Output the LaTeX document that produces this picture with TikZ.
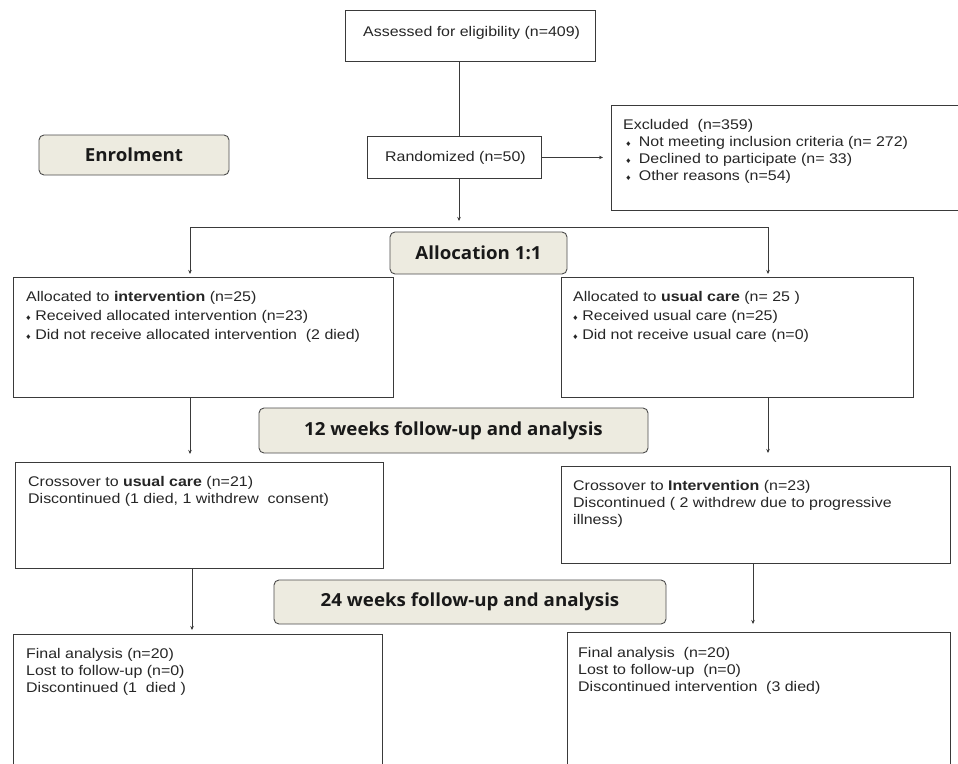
\documentclass[tikz,border=0pt]{standalone}
\usepackage{fontspec}
\setmainfont{Liberation Sans}
\newfontfamily\bodyfont{Liberation Sans}[FakeStretch=1.14]
\newfontfamily\headfont{Open Sans}[FakeStretch=1.04]
\usetikzlibrary{arrows.meta,calc}
\definecolor{beige}{HTML}{EDEBE0}
\definecolor{lineg}{HTML}{3A3A3A}
\newcommand{\dia}{{\fontsize{8}{8}\selectfont ♦}\hspace{4.5pt}}
\newcommand{\diab}{\hspace*{3pt}{\fontsize{8}{8}\selectfont ♦}\hspace{8pt}}
\tikzset{
  box/.style={draw=lineg, line width=0.9pt, inner sep=0pt, anchor=north west},
  txt/.style={anchor=north west, inner sep=0pt, align=left, font=\bodyfont\fontsize{14}{17.2}\selectfont, text=black!85},
  wtxt/.style={txt, font=\bodyfont\fontsize{14}{19}\selectfont},
  stage/.style={draw=black!70, fill=beige, rounded corners=5pt, line width=0.9pt, inner sep=0pt, font=\headfont\bfseries\fontsize{18}{20}\selectfont, text=black!90},
  conn/.style={draw=lineg, line width=0.8pt},
  arr/.style={conn, -{Stealth[length=4pt,width=3.5pt]}}
}
\begin{document}
\begin{tikzpicture}[x=1pt,y=-1pt]
\clip (0,0) rectangle (958,763);
\fill[white] (0,0) rectangle (958,763);

% stage labels
\node[stage, minimum width=190, minimum height=40] (enrol) at (134,155) {Enrolment};
\node[stage, minimum width=177, minimum height=42] (alloc) at (478.5,253) {Allocation 1:1};
\node[stage, minimum width=389, minimum height=45] (fu12) at (453.5,430.5) {12 weeks follow-up and analysis};
\node[stage, minimum width=392, minimum height=44] (fu24) at (470,602) {24 weeks follow-up and analysis};

% boxes
\node[box, minimum width=250, minimum height=51] (assess) at (345,10) {};
\node[txt] (assesst) at (363,26) {Assessed for eligibility (n=409)};

\node[box, minimum width=174, minimum height=42] (rand) at (367,136) {};
\node[txt] (randt) at (385,151) {Randomized (n=50)};

\node[box, minimum width=347, minimum height=105] (excl) at (611,105) {};
\node[txt] (exclt) at (623,119) {Excluded\ \ (n=359)\\
\diab Not meeting inclusion criteria (n= 272)\\
\diab Declined to participate (n= 33)\\
\diab Other reasons (n=54)};

\node[box, minimum width=380, minimum height=120] (la) at (13,277) {};
\node[wtxt] (lat) at (26,291) {Allocated to \textbf{intervention} (n=25)\\
\dia Received allocated intervention (n=23)\\
\dia Did not receive allocated intervention\ \ (2 died)};

\node[box, minimum width=352, minimum height=120] (ra) at (561,277) {};
\node[wtxt] (rat) at (573,291) {Allocated to \textbf{usual care} (n= 25 )\\
\dia Received usual care (n=25)\\
\dia Did not receive usual care (n=0)};

\node[box, minimum width=368, minimum height=106] (lc) at (15,462) {};
\node[txt] (lct) at (28,476) {Crossover to \textbf{usual care} (n=21)\\
Discontinued (1 died, 1 withdrew\ \ consent)};

\node[box, minimum width=389, minimum height=97] (rc) at (561,466) {};
\node[txt] (rct) at (573,480) {Crossover to \textbf{Intervention} (n=23)\\
Discontinued ( 2 withdrew due to progressive\\
illness)};

\node[box, minimum width=369, minimum height=150] (lf) at (13,634) {};
\node[txt] (lft) at (26,648) {Final analysis (n=20)\\
Lost to follow-up (n=0)\\
Discontinued (1\ \ died )};

\node[box, minimum width=383, minimum height=150] (rf) at (567,632) {};
\node[txt] (rft) at (578,647) {Final analysis\ \ (n=20)\\
Lost to follow-up\ \ (n=0)\\
Discontinued intervention\ \ (3 died)};

% connectors
\coordinate (split) at (459,227);
\coordinate (xl1) at (190,0);
\coordinate (xr1) at (768,0);
\coordinate (xl2) at (192,0);
\coordinate (xr2) at (753,0);
\draw[conn] (assess.south -| split) -- (rand.north -| split);
\draw[arr, shorten >=8pt] (rand.east) -- (excl.west |- rand.east);
\draw[arr, shorten >=6pt] (rand.south -| split) -- (split);
\draw[arr, shorten >=3pt] (split) -| (la.north -| xl1);
\draw[arr, shorten >=3pt] (split) -| (ra.north -| xr1);
\draw[arr, shorten >=8pt] (la.south -| xl1) -- (lc.north -| xl1);
\draw[arr, shorten >=13pt] (ra.south -| xr1) -- (rc.north -| xr1);
\draw[arr, shorten >=4pt] (lc.south -| xl2) -- (lf.north -| xl2);
\draw[arr, shorten >=8pt] (rc.south -| xr2) -- (rf.north -| xr2);
\end{tikzpicture}
\end{document}
